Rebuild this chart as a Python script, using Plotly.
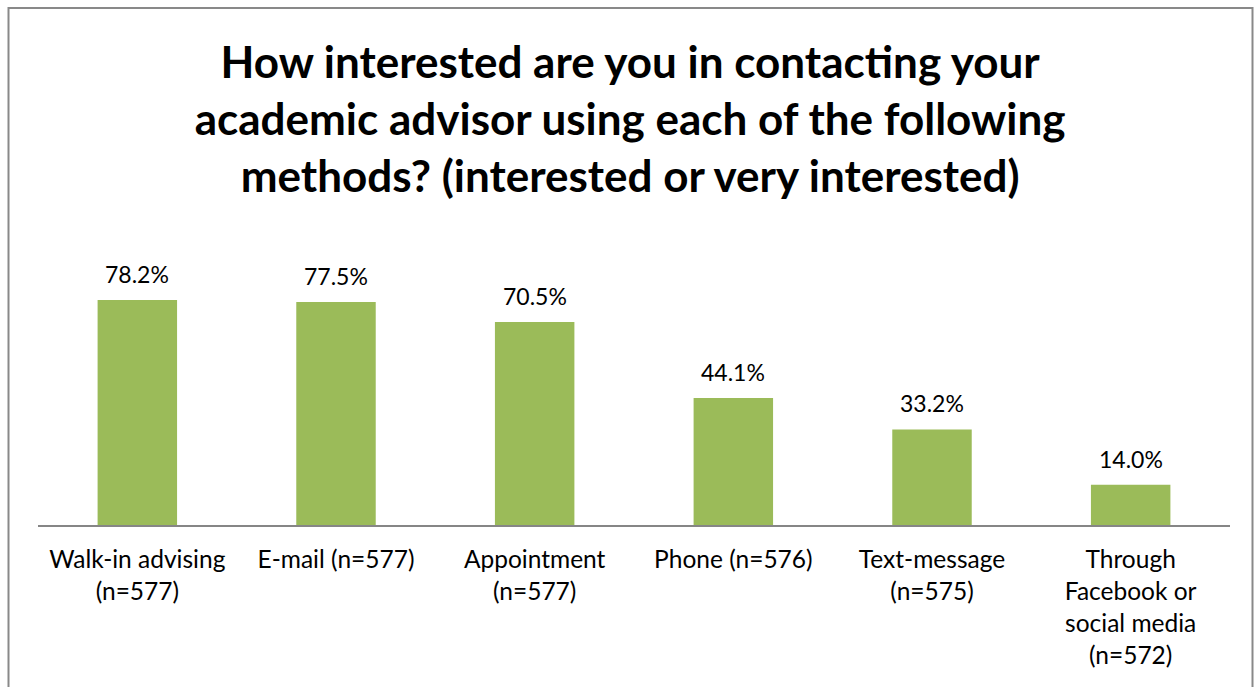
import plotly.graph_objects as go

categories = ["Walk-in advising<br>(n=577)", "E-mail (n=577)", "Appointment<br>(n=577)",
              "Phone (n=576)", "Text-message<br>(n=575)",
              "Through<br>Facebook or<br>social media<br>(n=572)"]
values = [78.2, 77.5, 70.5, 44.1, 33.2, 14.0]
labels = [f"{v:.1f}%" for v in values]

W, H = 1254, 687
L, R, T, B = 38, 24, 266, 161.5
pw, ph = W - L - R, H - T - B

FONT = "Lato"

fig = go.Figure(go.Bar(
    x=categories, y=values,
    marker=dict(color="#9BBB59", line=dict(width=0)),
    width=0.4, cliponaxis=False, hoverinfo="skip",
))

for c, v, t in zip(categories, values, labels):
    fig.add_annotation(x=c, y=v, text=t, showarrow=False, yanchor="bottom",
                       yshift=10, font=dict(family=FONT, size=23, color="#000000"))

def px2x(p):
    return (p - L) / pw

def px2y(p):
    return (H - B - p) / ph

fig.update_layout(
    width=W, height=H,
    margin=dict(l=L, r=R, t=T, b=B),
    paper_bgcolor="white", plot_bgcolor="white",
    showlegend=False,
    title=dict(
        text="How interested are you in contacting your<br>academic advisor using each of the following<br>methods? (interested or very interested)",
        x=0.5025, xanchor="center", y=1 - 78 / H, yanchor="middle",
        font=dict(family=FONT, size=44, color="#000000", weight="bold"),
    ),
    xaxis=dict(
        showline=True, linecolor="#868686", linewidth=2,
        ticks="", tickfont=dict(family=FONT, size=24.5, color="#000000"),
        ticklabelstandoff=12, showgrid=False,
    ),
    yaxis=dict(range=[0, 90], visible=False, showgrid=False),
)

fig.add_shape(type="rect", xref="paper", yref="paper",
              x0=px2x(8.5), x1=px2x(1252.5), y0=px2y(720), y1=px2y(7.5),
              line=dict(color="#898989", width=2), fillcolor="rgba(0,0,0,0)", layer="below")

fig.write_html("out.html", config={"displayModeBar": False},
               post_script="document.body.style.margin='0';document.body.style.overflow='hidden';")
